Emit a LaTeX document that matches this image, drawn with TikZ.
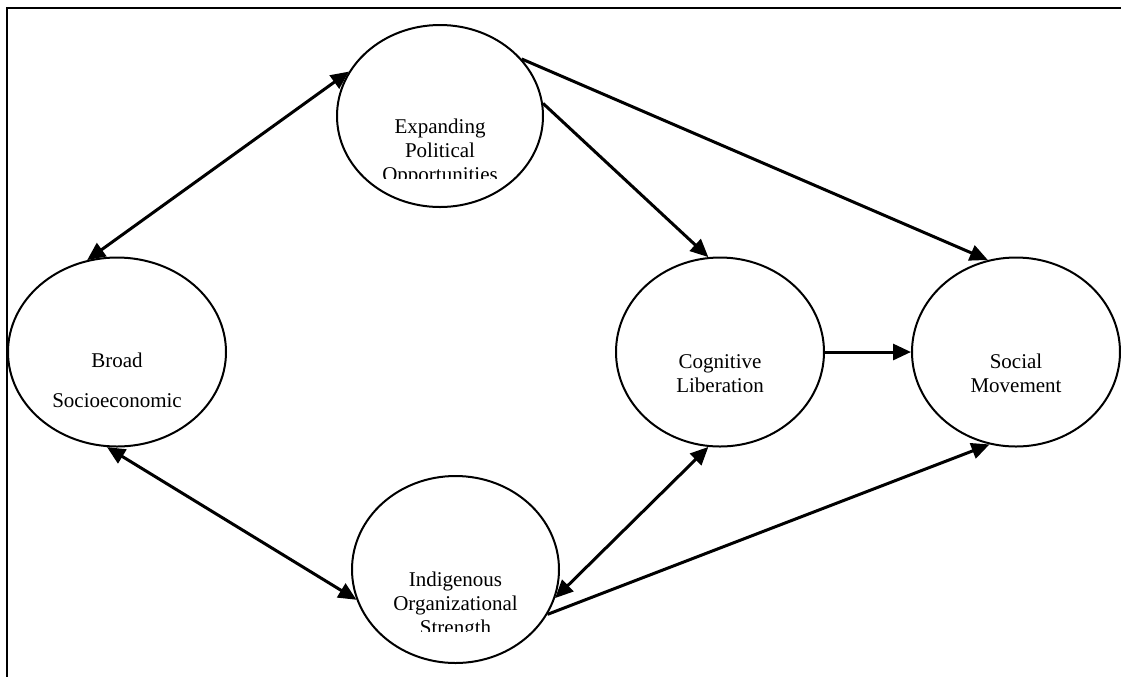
\documentclass[tikz,border=0pt]{standalone}
\usepackage{fontspec}
\setmainfont{Liberation Serif}
\usetikzlibrary{shapes.geometric,arrows.meta}

\begin{document}
\begin{tikzpicture}
    [x=0.5pt,y=-0.5pt,
     factor/.style={draw,ellipse,line width=1pt,inner sep=0pt},
     ftext/.style={align=center,anchor=base,inner sep=0pt,font=\fontsize{10.5}{12}\selectfont},
     link/.style={line width=1.5pt,-{Triangle[length=9pt,width=8pt]}},
     twoway/.style={line width=1.5pt,{Triangle[length=9pt,width=8pt]}-{Triangle[length=9pt,width=8pt]}}]
      \useasboundingbox (0,0) rectangle (1121,677);

      \node (exp)[factor,minimum width=103pt,minimum height=91pt]     at (440,116) {};
      \node (broad)[factor,minimum width=109pt,minimum height=94.5pt] at (117,352) {};
      \node (ind)[factor,minimum width=103.5pt,minimum height=93.5pt] at (455.5,569.5) {};
      \node (cog)[factor,minimum width=104pt,minimum height=94.5pt]   at (720,352) {};
      \node (soc)[factor,minimum width=104pt,minimum height=94.5pt]   at (1016,352) {};

      \begin{scope}
        \clip (330,20) rectangle (550,178);
        \node (expt)[ftext] at (440,181) {Expanding\\Political\\Opportunities};
      \end{scope}
      \node (broadt)[ftext] at (117,407) {Broad\\[8pt]Socioeconomic};
      \begin{scope}
        \clip (345,470) rectangle (565,631);
        \node (indt)[ftext] at (455.5,634) {Indigenous\\Organizational\\Strength};
      \end{scope}
      \node (cogt)[ftext] at (720,392)  {Cognitive\\Liberation};
      \node (soct)[ftext] at (1016,392) {Social\\Movement};

      \foreach \from/\to in {exp.7/cog.97,exp.35/soc.107,cog.east/soc.west,ind.334/soc.254}
	\draw[link] (\from) -- (\to);
      \foreach \from/\to in {exp.154/broad.108,broad.264/ind.197,cog.263/ind.344}
	\draw[twoway] (\from) -- (\to);

      % frame, open at right and bottom
      \draw[line width=1.25pt] (1121,8) -- (7,8) -- (7,677);
    \end{tikzpicture}
\end{document}
